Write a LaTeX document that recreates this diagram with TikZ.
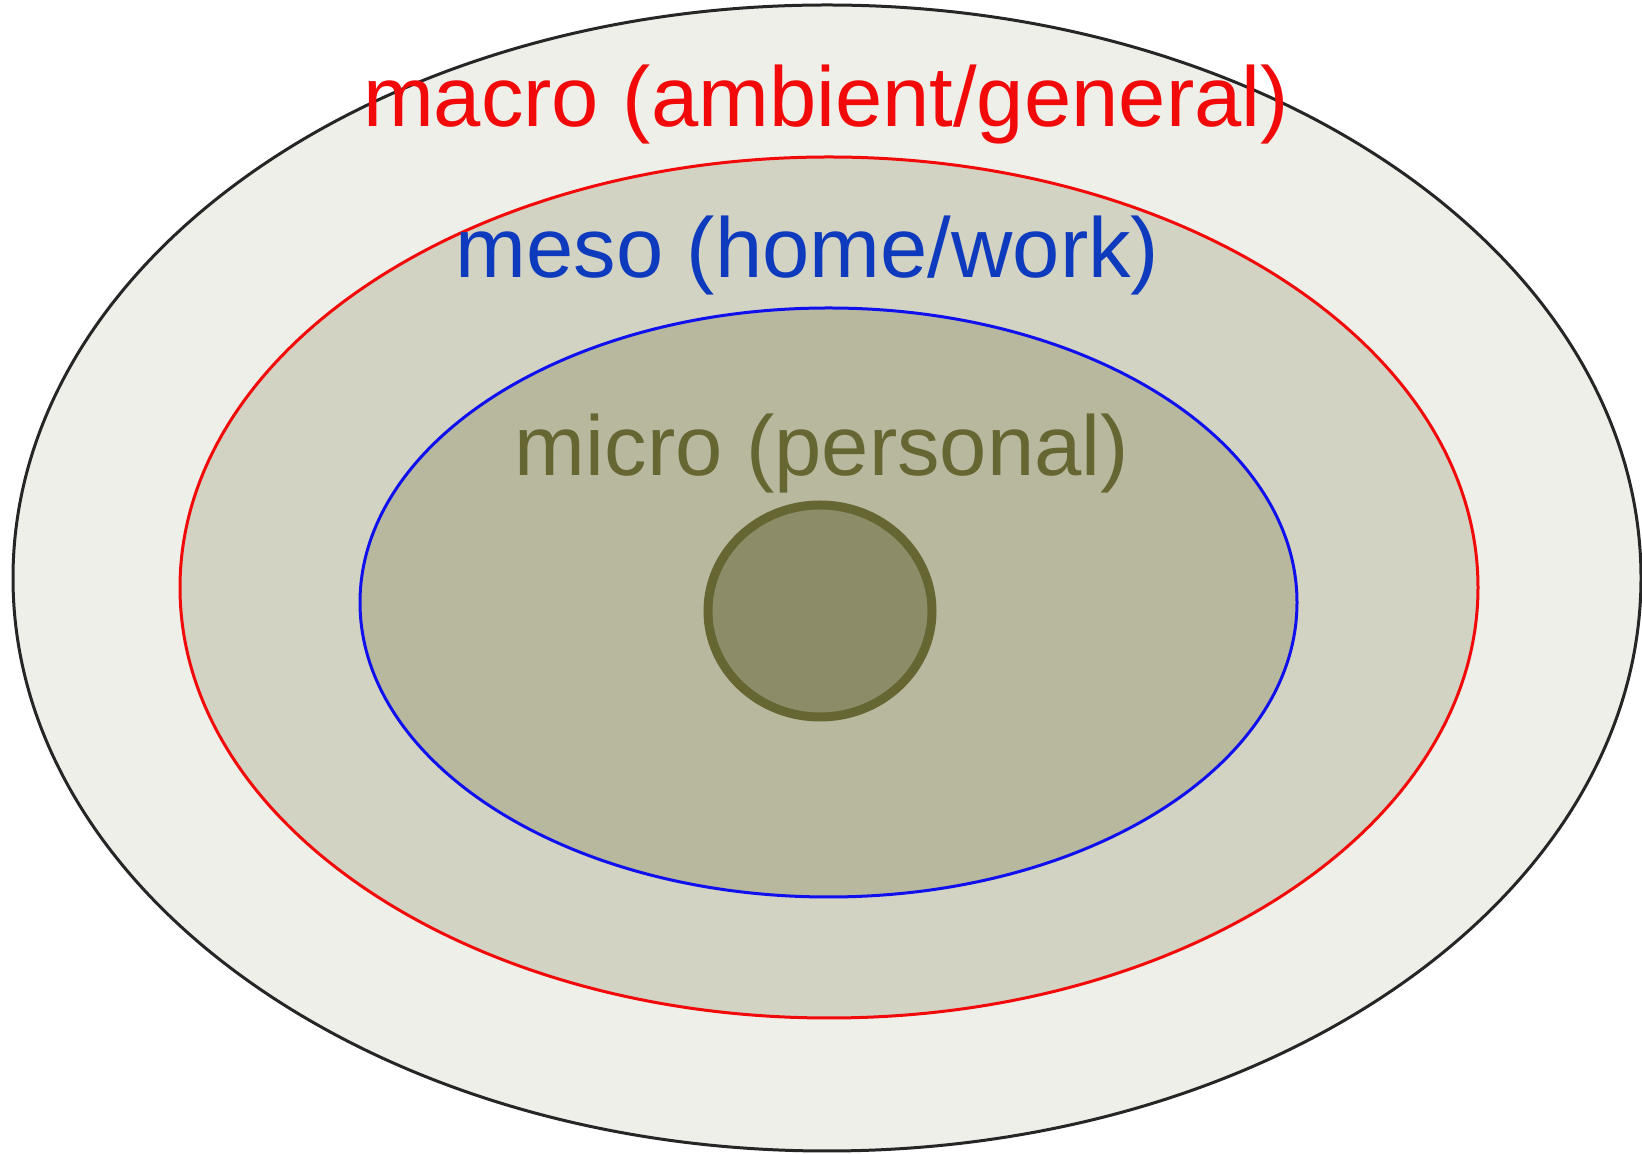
\documentclass[tikz,border=0pt]{standalone}
\usepackage{fontspec}
\setmainfont{Liberation Sans}
\definecolor{cring}{HTML}{262626}
\definecolor{cmacro}{HTML}{F20A0A}
\definecolor{cmesoline}{HTML}{1010EE}
\definecolor{cmesotext}{HTML}{0E3BBE}
\definecolor{cmicro}{HTML}{666633}
\definecolor{fmacro}{HTML}{EEEFE9}
\definecolor{fmeso}{HTML}{D3D3C4}
\definecolor{fmicro}{HTML}{B8B89E}
\definecolor{fcore}{HTML}{8C8C69}
\tikzset{
  ring/.style={draw=#1, line width=3pt},
  level/.style={font=\fontsize{85}{100}\selectfont, anchor=base, inner sep=0pt},
}

\begin{document}
\begin{tikzpicture}[x=1pt, y=1pt]
  \useasboundingbox (0,0) rectangle (1642,1154);
  % nested scales, outermost first
  \fill[fmacro] (827,576) ellipse [x radius=814, y radius=573];
  \draw[ring=cring] (827,576) ellipse [x radius=814, y radius=573];
  \filldraw[fill=fmeso, ring=cmacro] (829,566.5) ellipse [x radius=649, y radius=430.5];
  \filldraw[fill=fmicro, ring=cmesoline] (828.5,551.5) ellipse [x radius=468.5, y radius=294.5];
  \filldraw[fill=fcore, draw=cmicro, line width=9pt] (820,543) ellipse [x radius=112, y radius=106];
  % labels
  \node[level, text=cmacro] (macro) at (826,1027) {macro (ambient/general)};
  \node[level, text=cmesotext] (meso) at (807.5,876) {meso (home/work)};
  \node[level, text=cmicro] (micro) at (822,678) {micro (personal)};
\end{tikzpicture}
\end{document}
